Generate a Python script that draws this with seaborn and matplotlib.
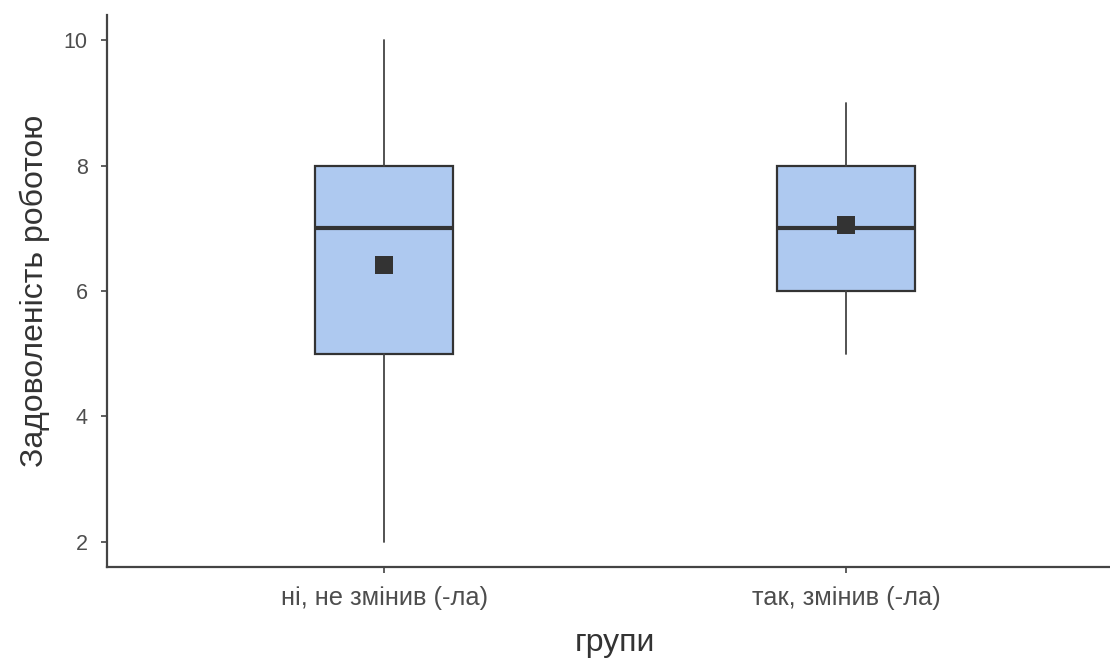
import numpy as np
import seaborn as sns
import matplotlib.pyplot as plt

# Box statistics
groups = ["ні, не змінив (-ла)", "так, змінив (-ла)"]
whisker_low = [2, 5]
q1 = [5, 6]
median = [7, 7]
q3 = [8, 8]
whisker_high = [10, 9]
means = [6.42, 7.05]

box_fill = "#aec9f0"
edge_col = "#333333"

sns.set_style("ticks")
plt.rcParams['font.family'] = ['Liberation Sans', 'DejaVu Sans']

fig = plt.figure(figsize=(11.1, 6.61), dpi=100)
ax = fig.add_axes([107 / 1110, 1 - 567 / 661, 1016 / 1110, 552 / 661])

stats = []
for i, g in enumerate(groups):
    stats.append({
        "label": g,
        "whislo": whisker_low[i],
        "q1": q1[i],
        "med": median[i],
        "q3": q3[i],
        "whishi": whisker_high[i],
        "fliers": [],
    })

ax.bxp(
    stats,
    positions=np.arange(len(groups)),
    widths=0.3,
    patch_artist=True,
    showcaps=False,
    showfliers=False,
    boxprops=dict(facecolor=box_fill, edgecolor=edge_col, linewidth=1.6),
    medianprops=dict(color=edge_col, linewidth=3.0, solid_capstyle="butt"),
    whiskerprops=dict(color="#444444", linewidth=1.3),
)

# mean markers
sns.scatterplot(x=np.arange(len(groups)), y=means, marker="s", s=150,
                color=edge_col, edgecolor=edge_col, linewidth=0, zorder=5, ax=ax)

ax.set_xlim(-0.6, 1.6)
ax.set_ylim(1.6, 10.4)
ax.set_yticks([2, 4, 6, 8, 10])
ax.set_xticks(np.arange(len(groups)))
ax.set_xticklabels(groups)

ax.tick_params(axis="both", labelcolor="#4d4d4d",
               color="#333333", length=4, width=1.1)
ax.tick_params(axis="y", labelsize=15.5, pad=10)
ax.tick_params(axis="x", labelsize=18.3, pad=10)

ax.set_xlabel("групи", fontsize=23, color="#333333", labelpad=13)
ax.set_ylabel("Задоволеність роботою", fontsize=23, color="#333333", labelpad=10)

sns.despine(ax=ax)
for side in ["left", "bottom"]:
    ax.spines[side].set_color("#444444")
    ax.spines[side].set_linewidth(1.6)

fig.savefig("out.png", dpi=100)
